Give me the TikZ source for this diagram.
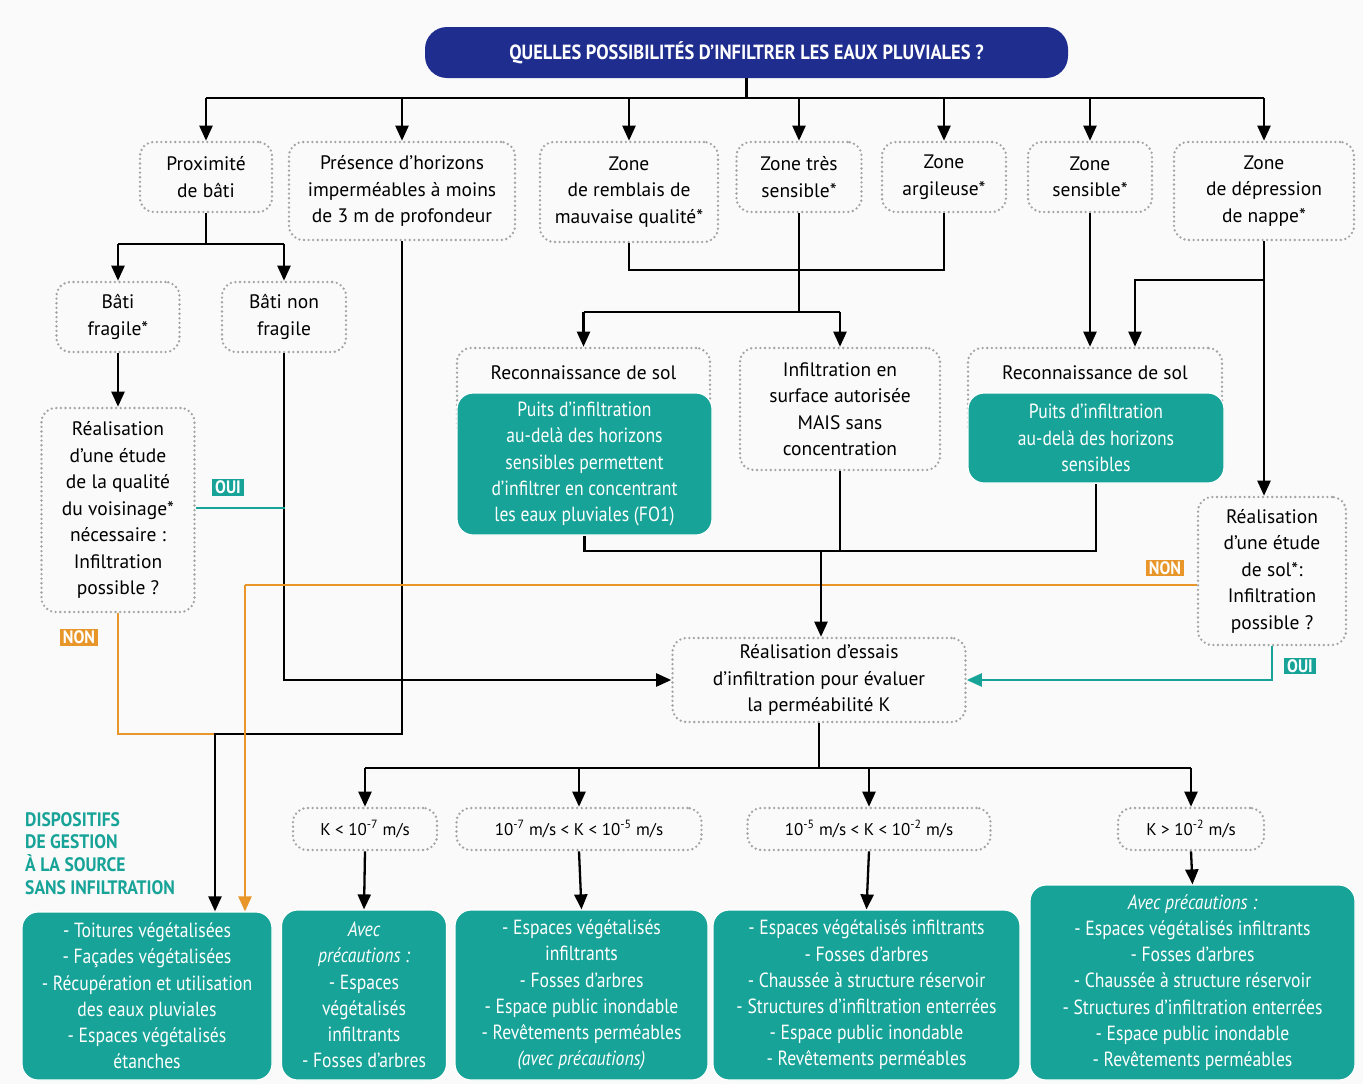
\documentclass[tikz,border=0pt]{standalone}
\usepackage{fontspec}
\setmainfont{PT Sans}
\newfontfamily\condf[FakeStretch=0.86]{PT Sans}
\newfontfamily\titf[FakeStretch=0.9]{PT Sans}
\usetikzlibrary{arrows.meta,calc}
\definecolor{tealc}{HTML}{17A398}
\definecolor{navy}{HTML}{1F2E8E}
\definecolor{orangec}{HTML}{E8962A}
\definecolor{dotgray}{HTML}{A3A3A3}
\definecolor{bgc}{HTML}{FAFAFA}
\newcommand\myfs{\fontsize{19.5}{26.5}\selectfont}
\newcommand\mycf{\condf\fontsize{20.5}{26.2}\selectfont}
\begin{document}
\begin{tikzpicture}[x=1pt,y=-1pt,
  dotbox/.style={draw=dotgray, line width=2.6pt, dash pattern=on 0pt off 4.6pt, line cap=round,
    rounded corners=14pt, align=center, inner sep=0pt, font=\myfs},
  tealbox/.style={fill=tealc, draw=white, line width=1.2pt, rounded corners=16pt, text=white,
    align=center, inner sep=0pt, font=\mycf},
  ln/.style={line width=2.3pt, black},
  arr/.style={ln, -{Triangle[length=15pt,width=13pt]}},
  oln/.style={line width=2.3pt, orangec},
  tln/.style={line width=2.3pt, tealc},
  tag/.style={text=white, font=\titf\bfseries\fontsize{18}{18}\selectfont, inner xsep=3pt, inner ysep=1.5pt},
  kbox/.style={dotbox, font=\fontsize{17}{20}\selectfont}
]
\useasboundingbox (0,0) rectangle (1363,1084);
\fill[bgc] (0,0) rectangle (1363,1084);

% title
\node[fill=navy, rounded corners=22pt, minimum width=643pt, minimum height=51pt, text=white,
  font=\titf\bfseries\fontsize{20.5}{22}\selectfont] (title) at (746.5,52.5)
  {QUELLES POSSIBILITÉS D’INFILTRER LES EAUX PLUVIALES ?};

% top row
\node[dotbox, minimum width=132pt, minimum height=70pt] (prox) at (206,177) {Proximité\\de bâti};
\node[dotbox, minimum width=226pt, minimum height=98pt] (pres) at (402,191) {Présence d’horizons\\imperméables à moins\\de 3 m de profondeur};
\node[dotbox, minimum width=178pt, minimum height=100pt] (remb) at (629,192) {Zone\\de remblais de\\mauvaise qualité*};
\node[dotbox, minimum width=125pt, minimum height=70pt] (tres) at (799,177) {Zone très\\sensible*};
\node[dotbox, minimum width=124pt, minimum height=70pt] (argi) at (944,177) {Zone\\argileuse*};
\node[dotbox, minimum width=124pt, minimum height=70pt] (sens) at (1090,177) {Zone\\sensible*};
\node[dotbox, minimum width=180pt, minimum height=98pt] (depr) at (1264,191) {Zone\\de dépression\\de nappe*};

% second level
\node[dotbox, minimum width=123pt, minimum height=70pt] (bfrag) at (118,317) {Bâti\\fragile*};
\node[dotbox, minimum width=124pt, minimum height=70pt] (bnon) at (284,317) {Bâti non\\fragile};
\node[dotbox, minimum width=153pt, minimum height=204pt] (vois) at (118,510)
  {Réalisation\\d’une étude\\de la qualité\\du voisinage*\\nécessaire :\\Infiltration\\possible ?};

\node[dotbox, minimum width=253pt, minimum height=92pt] (reco1) at (583.5,394) {};
\node[font=\myfs, inner sep=0pt] (reco1t) at (583.5,373) {Reconnaissance de sol};
\node[tealbox, minimum width=255pt, minimum height=142pt] (puits1) at (584.5,464)
  {Puits d’infiltration\\au-delà des horizons\\sensibles permettent\\d’infiltrer en concentrant\\les eaux pluviales (FO1)};

\node[dotbox, minimum width=200pt, minimum height=122pt] (infs) at (840,409)
  {Infiltration en\\surface autorisée\\MAIS sans\\concentration};

\node[dotbox, minimum width=254pt, minimum height=92pt] (reco2) at (1095,394) {};
\node[font=\myfs, inner sep=0pt] (reco2t) at (1095,373) {Reconnaissance de sol};
\node[tealbox, minimum width=256pt, minimum height=90pt] (puits2) at (1096,438)
  {Puits d’infiltration\\au-delà des horizons\\sensibles};

\node[dotbox, minimum width=148pt, minimum height=148pt] (etude) at (1272,571)
  {Réalisation\\d’une étude\\de sol*:\\Infiltration\\possible ?};

\node[dotbox, minimum width=293pt, minimum height=84pt] (essais) at (819,680)
  {Réalisation d’essais\\d’infiltration pour évaluer\\la perméabilité K};

% K boxes
\node[kbox, minimum width=144pt, minimum height=42pt] (k1) at (365,829) {K < 10\textsuperscript{-7} m/s};
\node[kbox, minimum width=245pt, minimum height=42pt] (k2) at (579,829) {10\textsuperscript{-7} m/s < K < 10\textsuperscript{-5} m/s};
\node[kbox, minimum width=243pt, minimum height=42pt] (k3) at (869,829) {10\textsuperscript{-5} m/s < K < 10\textsuperscript{-2} m/s};
\node[kbox, minimum width=146pt, minimum height=42pt] (k4) at (1191,829) {K > 10\textsuperscript{-2} m/s};

% bottom teal boxes
\node[tealbox, minimum width=250pt, minimum height=168pt] (d0) at (147,996)
  {- Toitures végétalisées\\- Façades végétalisées\\- Récupération et utilisation\\des eaux pluviales\\- Espaces végétalisés\\étanches};
\node[tealbox, minimum width=165pt, minimum height=170pt] (d1) at (364,995)
  {\itshape Avec\\\itshape précautions :\\- Espaces\\végétalisés\\infiltrants\\- Fosses d’arbres};
\node[tealbox, minimum width=253pt, minimum height=170pt] (d2) at (581.5,995)
  {- Espaces végétalisés\\infiltrants\\- Fosses d’arbres\\- Espace public inondable\\- Revêtements perméables\\\itshape (avec précautions)};
\node[tealbox, minimum width=307pt, minimum height=170pt] (d3) at (866.5,995)
  {- Espaces végétalisés infiltrants\\- Fosses d’arbres\\- Chaussée à structure réservoir\\- Structures d’infiltration enterrées\\- Espace public inondable\\- Revêtements perméables};
\node[tealbox, minimum width=325pt, minimum height=195pt] (d4) at (1192.5,982.5)
  {\itshape Avec précautions :\\- Espaces végétalisés infiltrants\\- Fosses d’arbres\\- Chaussée à structure réservoir\\- Structures d’infiltration enterrées\\- Espace public inondable\\- Revêtements perméables};

\node[anchor=north west, align=left, text=tealc, inner sep=0pt,
  font=\titf\bfseries\fontsize{19.5}{22.8}\selectfont] (dlab) at (25,812)
  {DISPOSITIFS\\DE GESTION\\À LA SOURCE\\SANS INFILTRATION};

% tags
\node[tag, fill=tealc] (oui1) at (228,487.5) {OUI};
\node[tag, fill=orangec] (non1) at (79,637.5) {NON};
\node[tag, fill=orangec] (non2) at (1165,568) {NON};
\node[tag, fill=tealc] (oui2) at (1300,666) {OUI};

% coordinates
\coordinate (bar) at (746.5,98);
\coordinate (pj) at (206,244);
\coordinate (m1) at (799,270);
\coordinate (m2) at (799,312);
\coordinate (dj) at (1264,280);
\coordinate (m3) at (821,551);
\coordinate (m4) at (819,768);
\coordinate (jn) at (215,734);
\coordinate (oj) at (245,585);
\coordinate (vj) at (285,508);

% connectors from title
\draw[ln] (title.south) -- (bar);
\draw[ln] (bar -| prox.north) -- (bar -| depr.north);
\foreach \n in {prox,pres,remb,tres,argi,sens,depr}
  \draw[arr] (bar -| \n.north) -- (\n.north);

% proximite
\draw[ln] (prox.south) -- (pj);
\draw[ln] (pj -| bfrag.north) -- (pj -| bnon.north);
\draw[arr] (pj -| bfrag.north) -- (bfrag.north);
\draw[arr] (pj -| bnon.north) -- (bnon.north);
\draw[arr] (bfrag.south) -- (vois.north);
\draw[arr] (bnon.south) |- (essais.west);
\draw[tln] (vois.east |- vj) -- (vj);

% horizons -> dispositifs
\draw[oln] (vois.south) |- (jn);
\draw[arr] (pres.south) |- (jn) -- (jn |- d0.north);
\draw[oln] (etude.west |- oj) -- (oj);
\draw[oln, -{Triangle[length=15pt,width=13pt]}] (oj) -- (oj |- d0.north);

% zones
\draw[ln] (remb.south) |- (m1) -| (argi.south);
\draw[ln] (tres.south) -- (m2);
\draw[ln] (m2 -| reco1.north) -- (m2 -| infs.north);
\draw[arr] (m2 -| reco1.north) -- (reco1.north);
\draw[arr] (m2 -| infs.north) -- (infs.north);
\draw[arr] (sens.south) -- (sens.south |- reco2.north);
\draw[arr] (depr.south) -- (depr.south |- etude.north);
\draw[arr] (dj) -| ([xshift=40pt]reco2.north);

% to essais
\draw[ln] (puits1.south) |- (m3) -| (puits2.south);
\draw[ln] (infs.south) -- (infs.south |- m3);
\draw[arr] (m3) -- (m3 |- essais.north);
\draw[tln, -{Triangle[length=15pt,width=13pt]}] (etude.south) |- (essais.east);

% essais -> K
\draw[ln] (essais.south) -- (m4);
\draw[ln] (m4 -| k1.north) -- (m4 -| k4.north);
\foreach \k in {k1,k2,k3,k4}
  \draw[arr] (m4 -| \k.north) -- (\k.north);
\draw[arr] (k1.south) -- (d1.north);
\draw[arr] (k2.south) -- (d2.north);
\draw[arr] (k3.south) -- (d3.north);
\draw[arr] (k4.south) -- (d4.north);
\end{tikzpicture}
\end{document}
